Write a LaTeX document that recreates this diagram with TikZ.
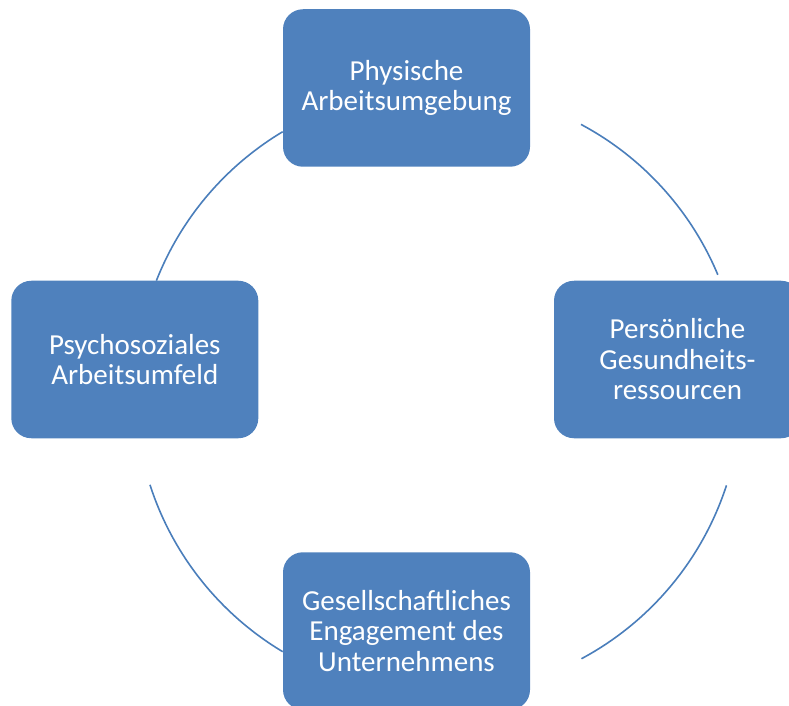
\documentclass[tikz,border=0pt]{standalone}
\usepackage{fontspec}
\setmainfont{Carlito}
\definecolor{boxblue}{HTML}{4F81BD}
\definecolor{arcblue}{HTML}{4A7EBB}
\begin{document}
\begin{tikzpicture}[x=1pt,y=1pt,
  cyclebox/.style={draw=none, fill=boxblue, rounded corners=20pt,
    minimum width=247pt, minimum height=157.5pt, text=white, align=center,
    font=\fontsize{29}{30.5}\selectfont, inner sep=0pt},
  cyclearc/.style={draw=arcblue, line width=1.6pt}]
\useasboundingbox (0,0) rectangle (789,705);
\clip (0,0) rectangle (789,705);
\node[cyclebox] (top) at (406.5,617) {Physische\\Arbeitsumgebung};
\node[cyclebox] (left) at (134.8,345.5) {Psychosoziales\\Arbeitsumfeld};
\node[cyclebox] (right) at (677.5,345.5) {Persönliche\\Gesundheits-\\ressourcen};
\node[cyclebox] (bottom) at (406.5,74) {Gesellschaftliches\\Engagement des\\Unternehmens};
\coordinate (c) at (438.3,313.3);
\draw[cyclearc] (c) ++(120.9:303) arc[start angle=120.9, end angle=158.5, radius=303];
\draw[cyclearc] (c) ++(197.9:303) arc[start angle=197.9, end angle=239.1, radius=303];
\draw[cyclearc] (c) ++(298.2:303) arc[start angle=298.2, end angle=342, radius=303];
\draw[cyclearc] (c) ++(22.7:303) arc[start angle=22.7, end angle=61.9, radius=303];
\end{tikzpicture}
\end{document}
